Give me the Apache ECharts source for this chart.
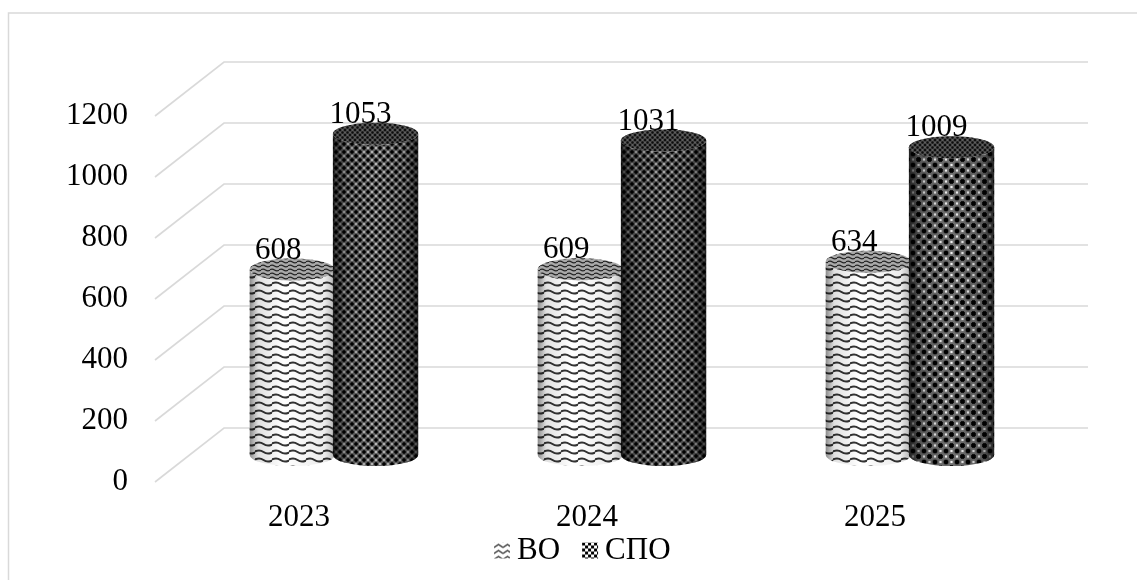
<!DOCTYPE html>
<html><head><meta charset="utf-8">
<style>html,body{margin:0;padding:0;background:#fff}#c{width:1137px;height:580px}</style>
<script src="https://cdn.jsdelivr.net/npm/echarts@6/dist/echarts.min.js"></script>
</head><body><div id="c"></div>
<script>
const categories = ['2023', '2024', '2025'];
const voValues = [608, 609, 634];
const spoValues = [1053, 1031, 1009];
const axisTicks = [0, 200, 400, 600, 800, 1000, 1200];
const voName = 'ВО';
const spoName = 'СПО';

const FONT = '"Liberation Serif","Times New Roman",serif';
const FS = 31;
const DX = 69, DY = 54, RY = 11, GRID = '#d9d9d9';

function tile(w, h, draw) {
  const c = document.createElement('canvas');
  c.width = w; c.height = h;
  const g = c.getContext('2d');
  draw(g, w, h);
  return { image: c, repeat: 'repeat' };
}
function wave(w, h, color, lw) {
  return tile(w, h, (g) => {
    g.fillStyle = '#fff'; g.fillRect(0, 0, w, h);
    g.strokeStyle = color; g.lineWidth = lw;
    g.lineJoin = 'round';
    const m = h / 2, a = h * 0.2;
    g.beginPath();
    g.moveTo(-1, m);
    g.quadraticCurveTo(w * 0.25, m - a * 2, w * 0.5, m);
    g.quadraticCurveTo(w * 0.75, m + a * 2, w + 1, m);
    g.stroke();
  });
}
function lattice(s, bg, hole) {
  return tile(s, s, (g) => {
    g.fillStyle = bg; g.fillRect(0, 0, s, s);
    const r = s * 0.21, w = s * 0.14;
    g.fillStyle = hole;
    [[s / 2, 0], [s / 2, s], [0, s / 2], [s, s / 2]].forEach(([x, y]) => {
      g.fillRect(x - s * 0.1, y - s * 0.1, s * 0.2, s * 0.2);
    });
    g.fillStyle = '#000';
    [[0, 0], [s, 0], [0, s], [s, s], [s / 2, s / 2]].forEach(([x, y]) => {
      g.fillRect(x - r, y - w, 2 * r, 2 * w);
      g.fillRect(x - w, y - r, 2 * w, 2 * r);
    });
  });
}
const voBody = wave(17, 8, '#333333', 2);
const voCap = wave(9, 4, '#222', 1.3);
const spoBodies = [lattice(8, '#6a6a6a', '#e4e4e4'), lattice(8, '#5c5c5c', '#d0d0d0'), lattice(11, '#707070', '#f0f0f0')];
const spoCap = lattice(5, '#555', '#999');
const voLegend = tile(9, 6, (g) => {
  g.fillStyle = '#fff'; g.fillRect(0, 0, 9, 6);
  g.strokeStyle = '#222'; g.lineWidth = 1.2;
  g.beginPath(); g.moveTo(0, 5); g.lineTo(4.5, 2); g.lineTo(9, 5); g.stroke();
});
const spoLegend = tile(6, 6, (g) => {
  g.fillStyle = '#fff'; g.fillRect(0, 0, 6, 6);
  g.fillStyle = '#000'; g.fillRect(0, 0, 3, 3); g.fillRect(3, 3, 3, 3);
});

function cylinder(offset, bodies, cap, capVeil, shade, labelShift) {
  return function (params, api) {
    const i = api.value(0), v = api.value(1);
    const band = api.size([1, 0])[0];
    const rx = band * 0.148;
    const c0 = api.coord([i, 0]), c1 = api.coord([i, v]);
    const cx = c0[0] + DX / 2 + band * offset;
    const yb = c0[1] - DY / 2, yt = c1[1] - DY / 2;
    const pd = `M${cx - rx} ${yt}L${cx - rx} ${yb}A${rx} ${RY} 0 0 0 ${cx + rx} ${yb}L${cx + rx} ${yt}A${rx} ${RY} 0 0 1 ${cx - rx} ${yt}Z`;
    const grad = { type: 'linear', x: 0, y: 0, x2: 1, y2: 0, colorStops: shade };
    const capShape = { cx: cx, cy: yt, rx: rx, ry: RY };
    return {
      type: 'group',
      children: [
        { type: 'path', shape: { pathData: pd }, style: { fill: bodies[i % bodies.length] } },
        { type: 'path', shape: { pathData: pd }, style: { fill: grad } },
        { type: 'ellipse', shape: capShape, style: { fill: cap } },
        { type: 'ellipse', shape: capShape, style: { fill: capVeil } },
        { type: 'text', z2: 50, style: {
          text: String(v), x: cx + labelShift, y: yt - 19,
          align: 'center', verticalAlign: 'middle',
          font: FS + 'px ' + FONT, fill: '#000'
        } }
      ]
    };
  };
}

const voShade = [
  { offset: 0, color: 'rgba(0,0,0,0.45)' }, { offset: 0.1, color: 'rgba(0,0,0,0.12)' },
  { offset: 0.4, color: 'rgba(0,0,0,0)' }, { offset: 0.88, color: 'rgba(0,0,0,0.08)' },
  { offset: 1, color: 'rgba(0,0,0,0.3)' }
];
const spoShade = [
  { offset: 0, color: 'rgba(0,0,0,0.7)' }, { offset: 0.15, color: 'rgba(0,0,0,0.2)' },
  { offset: 0.5, color: 'rgba(0,0,0,0)' }, { offset: 0.85, color: 'rgba(0,0,0,0.2)' },
  { offset: 1, color: 'rgba(0,0,0,0.65)' }
];

function wallLine(params, api) {
  const r = params.coordSys;
  const y = api.coord([0, api.value(0)])[1];
  return {
    type: 'polyline',
    shape: { points: [[r.x, y], [r.x + DX, y - DY], [r.x + r.width + DX, y - DY]] },
    style: { fill: null, stroke: GRID, lineWidth: 1.6 },
    silent: true
  };
}

const chart = echarts.init(document.getElementById('c'));
chart.setOption({
  animation: false,
  backgroundColor: '#fff',
  textStyle: { fontFamily: FONT },
  grid: { left: 155, right: 118, top: 116, bottom: 98 },
  graphic: [{ type: 'rect', z: -1, silent: true,
    shape: { x: 8.5, y: 13, width: 1200, height: 700 },
    style: { fill: null, stroke: GRID, lineWidth: 1.5 } }],
  legend: {
    left: 489, top: 530, itemGap: 22, itemWidth: 16, itemHeight: 16,
    textStyle: { fontSize: FS, color: '#000', fontFamily: FONT, padding: [0, 0, 0, 2] },
    icon: 'rect',
    data: [
      { name: voName, itemStyle: { color: voLegend } },
      { name: spoName, itemStyle: { color: spoLegend } }
    ]
  },
  xAxis: {
    type: 'category', data: categories,
    axisLine: { show: false }, axisTick: { show: false }, splitLine: { show: false },
    axisLabel: { fontSize: FS, color: '#000', fontFamily: FONT, margin: 20 }
  },
  yAxis: {
    type: 'value', min: 0, max: 1200, interval: 200,
    axisLine: { show: false }, axisTick: { show: false }, splitLine: { show: false },
    axisLabel: { fontSize: FS, color: '#000', fontFamily: FONT, margin: 27, formatter: (v) => String(v) }
  },
  series: [
    { type: 'custom', name: 'walls', z: 1, silent: true, encode: { y: 0 },
      data: axisTicks.map(t => [t]), renderItem: wallLine },
    { type: 'custom', name: voName, z: 2, itemStyle: { color: voLegend },
      encode: { x: 0, y: 1 }, data: voValues.map((v, i) => [i, v]),
      renderItem: cylinder(-0.143, [voBody], voCap, 'rgba(40,40,40,0.4)', voShade, -14) },
    { type: 'custom', name: spoName, z: 3, itemStyle: { color: spoLegend },
      encode: { x: 0, y: 1 }, data: spoValues.map((v, i) => [i, v]),
      renderItem: cylinder(0.146, spoBodies, spoCap, 'rgba(40,40,40,0.3)', spoShade, -15) }
  ]
});
</script></body></html>
